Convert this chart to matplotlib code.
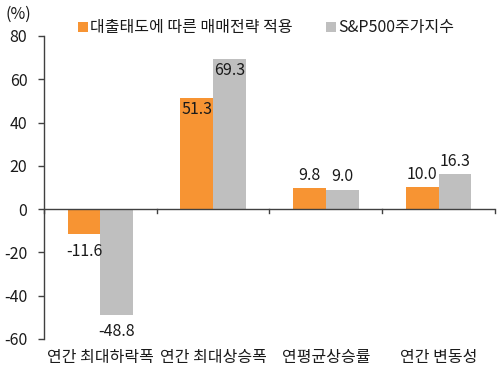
import matplotlib
matplotlib.use("Agg")
import matplotlib.pyplot as plt
import numpy as np

plt.rcParams['font.family'] = ['Noto Sans CJK KR', 'DejaVu Sans']

categories = ['연간 최대하락폭', '연간 최대상승폭', '연평균상승률', '연간 변동성']
series_names = ['대출태도에 따른 매매전략 적용', 'S&P500주가지수']
strategy = [-11.6, 51.3, 9.8, 10.0]
sp500 = [-48.8, 69.3, 9.0, 16.3]
yticks = [-60, -40, -20, 0, 20, 40, 60, 80]

c_orange = '#F79433'
c_gray = '#BFBFBF'
txt = '#1a1a1a'
fs = 11.5

fig = plt.figure(figsize=(5.02, 3.73), dpi=100)
ax = fig.add_axes([0.0876, 0.0912, 0.8984, 0.8123])

x = np.arange(len(categories))
w = 0.29
b1 = ax.bar(x - w/2, strategy, w, color=c_orange, label=series_names[0], zorder=2)
b2 = ax.bar(x + w/2, sp500, w, color=c_gray, label=series_names[1], zorder=2)

ax.set_xlim(-0.5, len(categories) - 0.5)
ax.set_ylim(-60, 80)
ax.set_yticks(yticks)
ax.set_yticklabels([str(v) for v in yticks], fontsize=fs, color=txt)

for s in ['top', 'right', 'bottom']:
    ax.spines[s].set_visible(False)
ax.spines['left'].set_color('#404040')
ax.spines['left'].set_linewidth(1.0)
ax.tick_params(axis='y', length=4, width=1.0, color='#404040', pad=8)
ax.axhline(0, color='#404040', lw=1.0, zorder=3)
for b in np.arange(len(categories) + 1) - 0.5:
    ax.plot([b, b], [0, -1.8], color='#404040', lw=1.0, zorder=3, clip_on=False)

ax.set_xticks(x)
ax.set_xticklabels(categories, fontsize=fs, color=txt)
ax.tick_params(axis='x', length=0, pad=7)

def label(bars, vals):
    for r, v in zip(bars, vals):
        cx = r.get_x() + r.get_width()/2
        if v > 40:
            off, va = -2, 'top'
        elif v >= 0:
            off, va = 3, 'bottom'
        else:
            off, va = -6, 'top'
        ax.annotate(f'{v:.1f}', (cx, v), xytext=(0, off), textcoords='offset points',
                    ha='center', va=va, fontsize=fs, color=txt, zorder=4)

label(b1, strategy)
label(b2, sp500)

fig.text(0.01, 0.962, '(%)', fontsize=fs, color=txt, ha='left', va='center')

leg = fig.legend(handles=[b1, b2], labels=series_names, loc='center',
                 bbox_to_anchor=(0.53, 0.925), ncol=2, frameon=False,
                 fontsize=fs, handlelength=0.6, handleheight=0.6,
                 handletextpad=0.15, columnspacing=2.1)
for t in leg.get_texts():
    t.set_color(txt)

fig.savefig('out.png', dpi=100)
